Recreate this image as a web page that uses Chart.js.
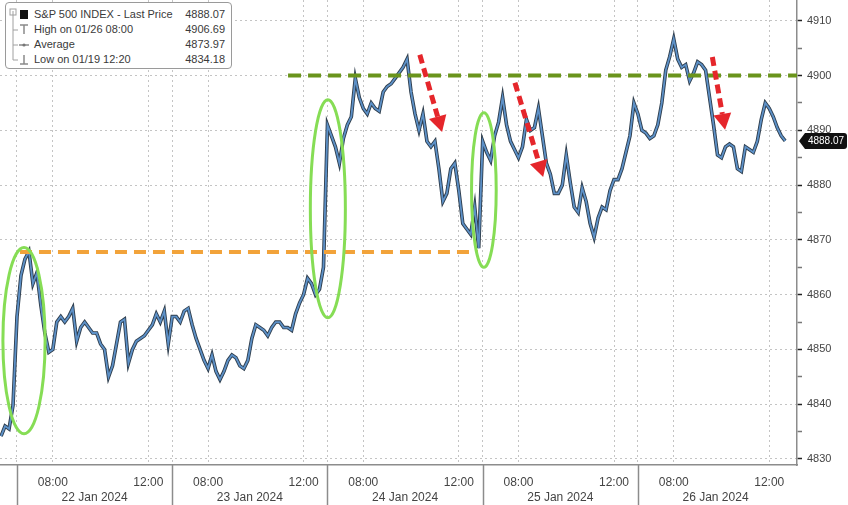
<!DOCTYPE html>
<html>
<head>
<meta charset="utf-8">
<script src="https://cdn.jsdelivr.net/npm/chart.js@4.4.1/dist/chart.umd.min.js"></script>
<style>
  html, body { margin: 0; padding: 0; background: #fff; }
  #wrap { position: relative; width: 848px; height: 505px; }
  #legend {
    position: absolute; left: 5px; top: 2px; width: 225px; height: 65px;
    border: 1px solid #9a9a9a; border-radius: 4px; background: #fff;
    font: 11px 'Liberation Sans', Arial, sans-serif; color: #3a3a3a;
  }
  #legend svg { position: absolute; left: 0; top: 0; }
  .row { position: absolute; left: 28px; right: 6px; height: 15px; line-height: 15px; white-space: nowrap; }
  .row .v { position: absolute; right: 0; top: 0; }
</style>
</head>
<body>
<div id="wrap">
  <canvas id="chart" width="848" height="505"></canvas>
  <div id="legend">
    <svg width="30" height="65">
      <path d="M7 8 V57 M7 27 H12 M7 42 H12 M7 57 H12" stroke="#a0a0a0" stroke-width="1" fill="none"/>
      <rect x="4" y="6" width="6" height="6" fill="none" stroke="#a0a0a0"/>
      <rect x="14" y="7" width="8" height="9" fill="#111"/>
      <path d="M14 22 H22 M18 22 V31" stroke="#8a8a8a" stroke-width="1.5"/>
      <path d="M13 42 H23" stroke="#8a8a8a" stroke-width="1.5"/><circle cx="18" cy="42" r="1.6" fill="#777"/>
      <path d="M14 61 H22 M18 52 V61" stroke="#8a8a8a" stroke-width="1.5"/>
    </svg>
  </div>
</div>
<script>
// chart clock: sessions run 06:30 - 13:00, gaps between days removed
const SESSION_OPEN = '06:30';
const SESSION_LEN = 390;
const STEP = 10;

const dayLabels = ['22 Jan 2024', '23 Jan 2024', '24 Jan 2024', '25 Jan 2024', '26 Jan 2024'];
const timeTicks = ['08:00', '12:00'];
const yTicks = [4830, 4840, 4850, 4860, 4870, 4880, 4890, 4900, 4910];

const legendRows = [
  ['S&P 500 INDEX - Last Price', '4888.07'],
  ['High on 01/26 08:00', '4906.69'],
  ['Average', '4873.97'],
  ['Low on 01/19 12:20', '4834.18'],
];

// 19 Jan tail, starts 12:20
const jan19Start = '12:20';
const jan19 = [4834.18, 4836.0, 4835.5, 4839.8];

// 10-minute prices from 06:30
const jan22 = [4856, 4863.5, 4866.5, 4867.9, 4862, 4864, 4858, 4853, 4849.5, 4850,
  4855, 4856, 4855, 4856, 4857.5, 4851.5, 4854, 4855, 4854, 4853,
  4853, 4851, 4850, 4845, 4847, 4851, 4855, 4855.5, 4847.5, 4850,
  4851.5, 4852, 4852.5, 4853.5, 4854.5, 4856.5, 4855, 4857, 4851];
const jan23 = [4856, 4856, 4855, 4857, 4857.5, 4854.5, 4852, 4850, 4848, 4846.5,
  4849, 4846, 4844.5, 4846, 4848, 4849, 4848.5, 4847, 4846.5, 4848,
  4852, 4854.5, 4854, 4853.5, 4852.5, 4854, 4855, 4855, 4854, 4854,
  4853.5, 4856.5, 4858.5, 4860, 4863, 4862, 4860, 4861, 4865];
const jan24 = [4891, 4889, 4887, 4884, 4888.5, 4891, 4892.5, 4899.5, 4896, 4894,
  4893, 4895, 4894, 4893.5, 4897, 4898, 4898.5, 4899.5, 4900.5, 4901.5,
  4903, 4897, 4893, 4890, 4893, 4888, 4887, 4888, 4883, 4877,
  4878.5, 4883, 4884, 4879, 4873, 4872, 4871, 4876, 4868.5];
const jan25 = [4888, 4886, 4884.5, 4889, 4891.5, 4896, 4891, 4888, 4886.5, 4885,
  4887, 4892, 4890, 4890.5, 4894, 4889, 4884, 4882, 4878.5, 4878.5,
  4880, 4885.5, 4880.5, 4876, 4875, 4879.5, 4877, 4873, 4870.5, 4874,
  4876, 4875.5, 4879, 4881, 4881, 4883, 4886, 4889, 4895];
const jan26 = [4893, 4890, 4889.5, 4888.5, 4889, 4891, 4895, 4901, 4903.5, 4906.69,
  4903, 4901.5, 4902, 4899, 4900.5, 4902.5, 4902, 4901, 4896, 4891,
  4885.5, 4885, 4887, 4887.5, 4887, 4883, 4882.5, 4887, 4886.5, 4886,
  4888, 4892, 4895, 4894, 4892.5, 4890.5, 4889, 4888.07];

// annotations, in chart clock minutes / price
const refLines = [
  { x0: 681, x1: null, y: 4900, color: '#6a941c', dash: [13, 7] },
  { x0: 7.5, x1: 1158, y: 4867.8, color: '#f2a33a', dash: [12, 7] },
];
const ellipses = [
  { x: 17.6, y: 4851.6, rx: 53, ry: 17 },
  { x: 781, y: 4875.7, rx: 44, ry: 19.9 },
  { x: 1173, y: 4879.1, rx: 31, ry: 14.1 },
];
const arrows = [
  { x0: 1012, y0: 4903.8, x1: 1068, y1: 4889.7 },
  { x0: 1251, y0: 4898.7, x1: 1322, y1: 4881.5 },
  { x0: 1747, y0: 4903.4, x1: 1779, y1: 4890.1 },
];

const X_MIN = -42.7, X_MAX = 1959.7;
const Y_MIN = 4828.9, Y_MAX = 4913.8;

function toMin(t) {
  const [h, m] = t.split(':').map(Number);
  return h * 60 + m;
}

function sessionPoints(day, start, values) {
  const off = toMin(start) - toMin(SESSION_OPEN);
  return values.map((v, i) => ({ x: day * SESSION_LEN + off + i * STEP, y: v }));
}

const series = [
  ...sessionPoints(-1, jan19Start, jan19),
  ...sessionPoints(0, SESSION_OPEN, jan22),
  ...sessionPoints(1, SESSION_OPEN, jan23),
  ...sessionPoints(2, SESSION_OPEN, jan24),
  ...sessionPoints(3, SESSION_OPEN, jan25),
  ...sessionPoints(4, SESSION_OPEN, jan26),
];
const lastPrice = jan26[jan26.length - 1];

const timeTickValues = [];
dayLabels.forEach((_, d) => {
  timeTickValues.push(d * SESSION_LEN);
  timeTicks.forEach(t => timeTickValues.push(d * SESSION_LEN + toMin(t) - toMin(SESSION_OPEN)));
});

function timeLabel(v) {
  const off = ((v % SESSION_LEN) + SESSION_LEN) % SESSION_LEN;
  const t = timeTicks.find(s => toMin(s) - toMin(SESSION_OPEN) === off);
  return t || '';
}

function noPadding(s) {
  s.paddingTop = 0;
  s.paddingBottom = 0;
  s.paddingLeft = 0;
  s.paddingRight = 0;
}

// legend rows
const legendEl = document.getElementById('legend');
legendRows.forEach((r, i) => {
  const div = document.createElement('div');
  div.className = 'row';
  div.style.top = (4 + i * 15) + 'px';
  div.innerHTML = '<span></span><span class="v"></span>';
  div.children[0].textContent = r[0];
  div.children[1].textContent = r[1];
  legendEl.appendChild(div);
});

const overlay = {
  id: 'overlay',
  afterDatasetsDraw(chart) {
    const { ctx, chartArea, scales: { x, y } } = chart;
    ctx.save();
    ctx.beginPath();
    ctx.rect(chartArea.left, chartArea.top, chartArea.right - chartArea.left, chartArea.bottom - chartArea.top);
    ctx.clip();

    refLines.forEach(l => {
      ctx.strokeStyle = l.color;
      ctx.lineWidth = 4;
      ctx.setLineDash(l.dash);
      ctx.beginPath();
      const py = y.getPixelForValue(l.y);
      ctx.moveTo(x.getPixelForValue(l.x0), py);
      ctx.lineTo(l.x1 === null ? chartArea.right : x.getPixelForValue(l.x1), py);
      ctx.stroke();
    });

    ctx.setLineDash([]);
    ctx.strokeStyle = '#86dd55';
    ctx.lineWidth = 3;
    ellipses.forEach(e => {
      const cx = x.getPixelForValue(e.x), cy = y.getPixelForValue(e.y);
      const rx = x.getPixelForValue(e.x + e.rx) - cx;
      const ry = cy - y.getPixelForValue(e.y + e.ry);
      ctx.beginPath();
      ctx.ellipse(cx, cy, rx, ry, 0, 0, Math.PI * 2);
      ctx.stroke();
    });

    arrows.forEach(a => {
      const x0 = x.getPixelForValue(a.x0), y0 = y.getPixelForValue(a.y0);
      const x1 = x.getPixelForValue(a.x1), y1 = y.getPixelForValue(a.y1);
      const ang = Math.atan2(y1 - y0, x1 - x0);
      const head = 16, half = 9;
      const bx = x1 - head * Math.cos(ang), by = y1 - head * Math.sin(ang);
      ctx.strokeStyle = '#e5262b';
      ctx.fillStyle = '#e5262b';
      ctx.lineWidth = 5;
      ctx.setLineDash([9, 5]);
      ctx.beginPath();
      ctx.moveTo(x0, y0);
      ctx.lineTo(bx, by);
      ctx.stroke();
      ctx.setLineDash([]);
      ctx.beginPath();
      ctx.moveTo(x1, y1);
      ctx.lineTo(bx + half * Math.sin(ang), by - half * Math.cos(ang));
      ctx.lineTo(bx - half * Math.sin(ang), by + half * Math.cos(ang));
      ctx.closePath();
      ctx.fill();
    });
    ctx.restore();
  },
  afterDraw(chart) {
    const { ctx, chartArea, scales: { x, y } } = chart;
    ctx.save();
    // day separators in the axis band
    ctx.strokeStyle = '#8c8c8c';
    ctx.lineWidth = 1.5;
    dayLabels.forEach((_, d) => {
      const px = Math.round(x.getPixelForValue(d * SESSION_LEN)) + 0.5;
      ctx.beginPath();
      ctx.moveTo(px, chartArea.bottom);
      ctx.lineTo(px, chart.height);
      ctx.stroke();
    });
    // last price tag
    const py = Math.round(y.getPixelForValue(lastPrice));
    const left = chartArea.right + 2, right = chart.width - 1;
    ctx.fillStyle = '#111';
    ctx.beginPath();
    ctx.moveTo(left, py);
    ctx.lineTo(left + 6, py - 8);
    ctx.lineTo(right - 3, py - 8);
    ctx.quadraticCurveTo(right, py - 8, right, py - 5);
    ctx.lineTo(right, py + 5);
    ctx.quadraticCurveTo(right, py + 8, right - 3, py + 8);
    ctx.lineTo(left + 6, py + 8);
    ctx.closePath();
    ctx.fill();
    ctx.fillStyle = '#fff';
    ctx.font = '10px "Liberation Sans", Arial, sans-serif';
    ctx.textAlign = 'center';
    ctx.textBaseline = 'middle';
    ctx.fillText(lastPrice.toFixed(2), (left + 6 + right) / 2, py + 0.5);
    ctx.restore();
  }
};

// first dataset is painted last, so the blue core goes first
new Chart(document.getElementById('chart'), {
  type: 'line',
  data: {
    datasets: [
      {
        data: series,
        borderColor: '#5d91c8',
        borderWidth: 1.8,
        pointRadius: 0,
        tension: 0,
      },
      {
        data: series,
        borderColor: '#2e3d4c',
        borderWidth: 3.6,
        pointRadius: 0,
        tension: 0,
      },
    ],
  },
  options: {
    responsive: false,
    animation: false,
    devicePixelRatio: 1,
    layout: { padding: 0 },
    plugins: {
      legend: { display: false },
      tooltip: { enabled: false },
    },
    scales: {
      x: {
        type: 'linear',
        min: X_MIN,
        max: X_MAX,
        afterBuildTicks: s => { s.ticks = timeTickValues.map(v => ({ value: v })); },
        afterFit: s => { s.height = 21; noPadding(s); },
        grid: { color: '#c4c4c4', lineWidth: 1, drawTicks: false },
        border: { display: true, color: '#8c8c8c', width: 1.5, dash: [2, 3] },
        ticks: {
          autoSkip: false,
          maxRotation: 0,
          padding: 10,
          color: '#444',
          font: { family: 'Liberation Sans', size: 12 },
          callback: v => timeLabel(v),
        },
      },
      x2: {
        type: 'linear',
        position: 'bottom',
        weight: 1,
        min: X_MIN,
        max: X_MAX,
        afterBuildTicks: s => { s.ticks = dayLabels.map((_, d) => ({ value: d * SESSION_LEN + SESSION_LEN / 2 })); },
        afterFit: s => { s.height = 19; noPadding(s); },
        grid: { display: false, drawTicks: false },
        border: { display: false },
        ticks: {
          autoSkip: false,
          maxRotation: 0,
          padding: 4,
          color: '#444',
          font: { family: 'Liberation Sans', size: 12 },
          callback: v => dayLabels[Math.floor(v / SESSION_LEN)] || '',
        },
      },
      y: {
        position: 'right',
        min: Y_MIN,
        max: Y_MAX,
        afterBuildTicks: s => {
          const t = [];
          for (let v = yTicks[0]; v <= yTicks[yTicks.length - 1]; v += 5) t.push({ value: v });
          s.ticks = t;
        },
        afterFit: s => { s.width = 51; noPadding(s); },
        grid: {
          color: c => (yTicks.includes(c.tick.value) ? '#c4c4c4' : 'rgba(0,0,0,0)'),
          tickColor: c => (yTicks.includes(c.tick.value) ? '#222' : '#777'),
          tickLength: 5,
          tickWidth: 1.5,
          tickBorderDash: [],
        },
        border: { display: true, color: '#8c8c8c', width: 1.5, dash: [2, 3] },
        ticks: {
          padding: 5,
          color: '#444',
          font: { family: 'Liberation Sans', size: 11 },
          callback: v => (yTicks.includes(v) ? String(v) : ''),
        },
      },
    },
  },
  plugins: [overlay],
});
</script>
</body>
</html>
